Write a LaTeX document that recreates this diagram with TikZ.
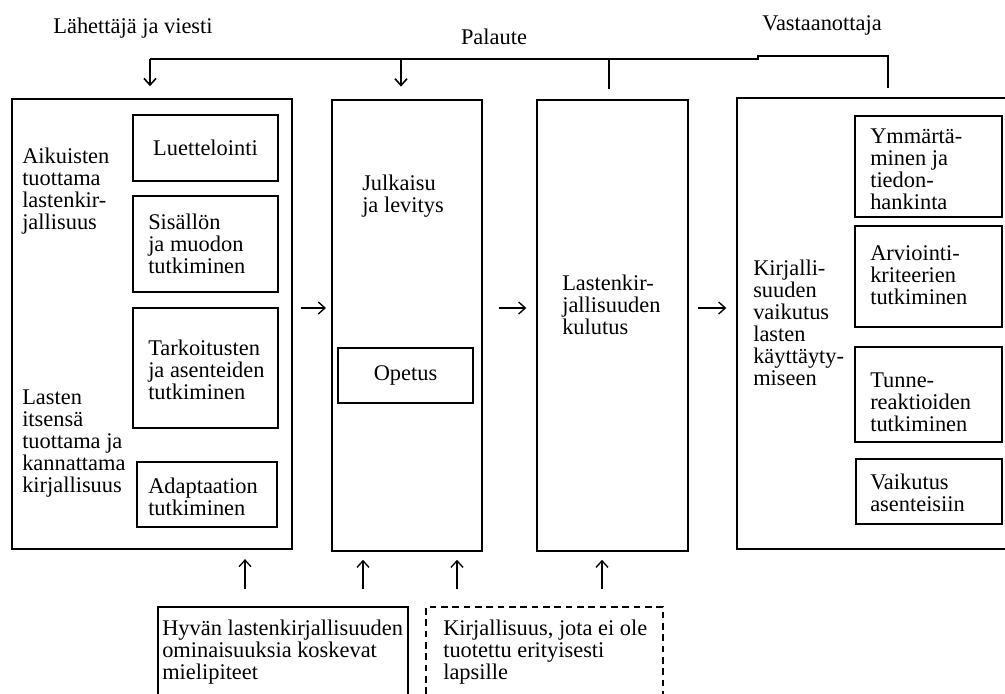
\documentclass[tikz,border=0pt]{standalone}
\usepackage{fontspec}
\setmainfont{Liberation Serif}
\usetikzlibrary{arrows.meta,fit}
\begin{document}
\begin{tikzpicture}[x=0.75pt,y=-0.75pt,
 every node/.style={font=\fontsize{16.8}{16.5}\selectfont, inner sep=0pt},
 outerbox/.style={draw, line width=1.1pt, inner sep=0pt},
 innerbox/.style={draw, line width=1.7pt, inner sep=0pt},
 dashbox/.style={draw, line width=1.4pt, dash pattern=on 5pt off 3.5pt, inner sep=0pt},
 txt/.style={align=left, anchor=west},
 flow/.style={line width=1pt, -{Straight Barb[length=5pt,width=9pt,line width=1pt]}},
 fb/.style={line width=1.4pt},
 fbarrow/.style={line width=1.2pt, -{Straight Barb[length=5pt,width=9pt,line width=1.2pt]}},
 ]
\useasboundingbox (0,0) rectangle (1005,693);
\fill[white] (0,0) rectangle (1005,693);
\clip (0,0) rectangle (1005,693);

% headings
\node (hL) at (133,28) {Lähettäjä ja viesti};
\node (hP) at (494,37) {Palaute};
\node (hV) at (822,25) {Vastaanottaja};

% main boxes
\node[outerbox, fit={(12,99) (292,549)}] (L) {};
\node[outerbox, fit={(332,100) (482,551)}] (M) {};
\node[outerbox, fit={(537,100) (688,551)}] (C) {};
\node[outerbox, fit={(737,98) (1015,549)}] (R) {};

% left box contents
\node[txt] (tA) at (22,191) {Aikuisten\\tuottama\\lastenkir-\\jallisuus};
\node[txt] (tB) at (22,444) {Lasten\\itsensä\\tuottama ja\\kannattama\\kirjallisuus};
\node[innerbox, fit={(133,115) (278,181)}] (Lu) {};
\node (tLu) at (Lu.center) {Luettelointi};
\node[innerbox, fit={(133,196) (278,292)}] (Si) {};
\node[txt] (tSi) at (148,244) {Sisällön\\ja muodon\\tutkiminen};
\node[innerbox, fit={(133,308) (278,428)}] (Ta) {};
\node[txt] (tTa) at (148,370) {Tarkoitusten\\ja asenteiden\\tutkiminen};
\node[innerbox, fit={(137,462) (277,527)}] (Ad) {};
\node[txt] (tAd) at (148,497) {Adaptaation\\tutkiminen};

% middle box contents
\node[txt] (tJu) at (362,196) {Julkaisu\\ja levitys};
\node[innerbox, fit={(338,348) (473,403)}] (Op) {};
\node (tOp) at (Op.center) {Opetus};

% consumption box
\node[txt] (tC) at (562,305) {Lastenkir-\\jallisuuden\\kulutus};

% right box contents
\node[txt] (tR) at (753,323) {Kirjalli-\\suuden\\vaikutus\\lasten\\käyttäyty-\\miseen};
\node[innerbox, fit={(855,116) (1002,217)}] (Ym) {};
\node[txt] (tYm) at (870,169) {Ymmärtä-\\minen ja\\tiedon-\\hankinta};
\node[innerbox, fit={(855,226) (1002,327)}] (Ar) {};
\node[txt] (tAr) at (870,275) {Arviointi-\\kriteerien\\tutkiminen};
\node[innerbox, fit={(855,347) (1002,442)}] (Tu) {};
\node[txt] (tTu) at (870,402) {Tunne-\\reaktioiden\\tutkiminen};
\node[innerbox, fit={(856,459) (1002,524)}] (Va) {};
\node[txt] (tVa) at (870,493) {Vaikutus\\asenteisiin};

% bottom boxes
\node[outerbox, line width=1.4pt, fit={(158,607) (408,710)}] (Hy) {};
\node[txt] (tHy) at (162,652) {Hyvän lastenkirjallisuuden\\ominaisuuksia koskevat\\mielipiteet};
\node[dashbox, fit={(426,607) (663,710)}] (Ki) {};
\node[txt] (tKi) at (443,652) {Kirjallisuus, jota ei ole\\tuotettu erityisesti\\lapsille};

% horizontal flow arrows
\coordinate (ay) at (0,308);
\draw[flow, shorten <=6pt, shorten >=4pt] (L.east |- ay) -- (M.west |- ay);
\draw[flow, shorten <=12pt, shorten >=7.5pt] (M.east |- ay) -- (C.west |- ay);
\draw[flow, shorten <=7pt, shorten >=7.5pt] (C.east |- ay) -- (R.west |- ay);

% upward arrows from bottom boxes
\coordinate (u1) at (245,0);
\coordinate (u2) at (363,0);
\coordinate (u3) at (457,0);
\coordinate (u4) at (602,0);
\draw[flow, shorten <=12.5pt, shorten >=7pt] (Hy.north -| u1) -- (L.south -| u1);
\draw[flow, shorten <=12.5pt, shorten >=6pt] (Hy.north -| u2) -- (M.south -| u2);
\draw[flow, shorten <=12.5pt, shorten >=6pt] (Ki.north -| u3) -- (M.south -| u3);
\draw[flow, shorten <=12.5pt, shorten >=6pt] (Ki.north -| u4) -- (C.south -| u4);

% feedback loop
\coordinate (fR) at (888,56);
\coordinate (fs) at (758,56);
\coordinate (fs2) at (758,59);
\coordinate (fL) at (150,59);
\coordinate (fM) at (401,59);
\coordinate (fC) at (609,59);
\draw[fb, shorten <=7pt] (R.north -| fR) -- (fR) -- (fs) -- (fs2) -- (fL);
\draw[fbarrow, shorten >=9pt] (fL) -- (L.north -| fL);
\draw[fbarrow, shorten >=9.5pt] (fM) -- (M.north -| fM);
\draw[fb, shorten >=8pt] (fC) -- (C.north -| fC);
\end{tikzpicture}
\end{document}
